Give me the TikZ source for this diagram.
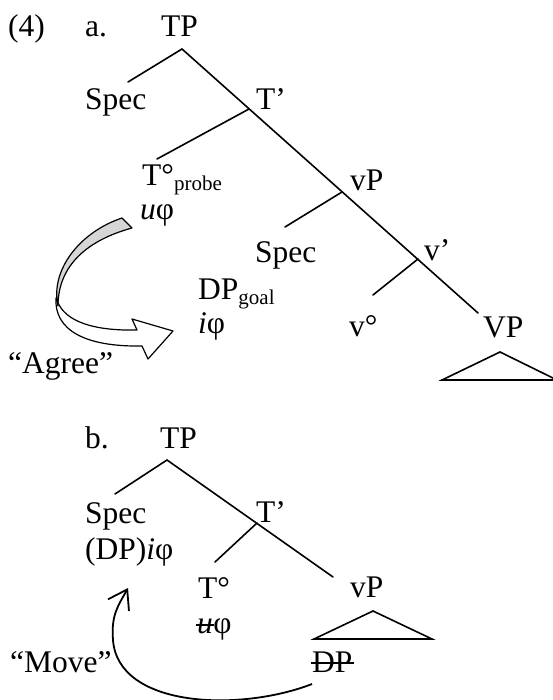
\documentclass[tikz,border=0pt]{standalone}
\usepackage{fontspec}
\setmainfont{Liberation Serif}
\usetikzlibrary{arrows.meta}
\definecolor{bandgray}{gray}{0.84}
\newcommand{\subtxt}[1]{\raisebox{-5pt}{\fontsize{21}{23}\selectfont #1}}
\begin{document}
\begin{tikzpicture}[x=1pt,y=-1pt,
  lbl/.style={inner sep=0pt, anchor=base west, font=\fontsize{31.5}{35}\selectfont},
  br/.style={line width=1.6pt, line cap=round},
  band/.style={line width=1.2pt, line join=round},
  strike/.style={line width=1.5pt}]
\useasboundingbox (0,0) rectangle (553,700);
% ---------------- part a ----------------
\node[lbl] (num) at (8,37) {(4)};
\node[lbl] (alab) at (85,37) {a.};
\node[lbl] (tpa) at (161,37) {TP};
\node[lbl] (speca) at (85,110) {Spec};
\node[lbl] (tbara) at (256,110) {T’};
\node[lbl] (tprobe) at (142,186) {T°\subtxt{probe}};
\node[lbl] (uphia) at (140,220) {\textit{u}φ};
\node[lbl] (vpa) at (350,191) {vP};
\node[lbl] (specv) at (255,262) {Spec};
\node[lbl] (vbar) at (424,261) {v’};
\node[lbl] (dpgoal) at (198,299) {DP\subtxt{goal}};
\node[lbl] (iphia) at (198,333) {\textit{i}φ};
\node[lbl] (vdeg) at (349,336) {v°};
\node[lbl] (vpbig) at (483,337) {VP};
\node[lbl] (agree) at (8,373) {“Agree”};
\coordinate (a0) at (182,49);
\coordinate (a1) at (128,82);
\coordinate (a2) at (249,109);
\coordinate (a3) at (157,159);
\coordinate (a4) at (342,192);
\coordinate (a5) at (285,227);
\coordinate (a6) at (418,259);
\coordinate (a7) at (373,295);
\coordinate (a8) at (478,313);
\draw[br] (a0) -- (a1);
\draw[br] (a0) -- (a8);
\draw[br] (a2) -- (a3);
\draw[br] (a4) -- (a5);
\draw[br] (a6) -- (a7);
\coordinate (ta) at (500,352);
\coordinate (tl) at (442,380);
\coordinate (tr) at (557,380);
\draw[br, line join=miter, line cap=butt] (tl) -- (ta) -- (tr) -- cycle;
% Agree arrow (ribbon)
\draw[band, fill=white] (57,300) .. controls (64,322) and (95,331) .. (137,330)
  -- (132,319) -- (173,331) -- (148,359) -- (142,346)
  .. controls (85,347) and (54,330) .. (56,298) -- cycle;
\draw[band, fill=bandgray] (122,218) -- (132,228)
  .. controls (88,240) and (58,265) .. (58,306)
  .. controls (50,270) and (80,232) .. (122,218) -- cycle;
% ---------------- part b ----------------
\node[lbl] (blab) at (85,448) {b.};
\node[lbl] (tpb) at (160,448) {TP};
\node[lbl] (specb) at (85,523) {Spec};
\node[lbl] (dpiphi) at (85,559) {(DP)\textit{i}φ};
\node[lbl] (tbarb) at (256,522) {T’};
\node[lbl] (tdeg) at (198,598) {T°};
\node[lbl] (ub) at (197,633) {\textit{u}};
\node[lbl] (phib) at (ub.base east) {φ};
\node[lbl] (vpb) at (350,597) {vP};
\node[lbl] (dpx) at (312,672) {DP};
\node[lbl] (move) at (10,672) {“Move”};
\coordinate (b0) at (167,460);
\coordinate (b1) at (115,494);
\coordinate (b2) at (257,523);
\coordinate (b3) at (215,562);
\coordinate (b4) at (333,577);
\draw[br] (b0) -- (b1);
\draw[br] (b0) -- (b4);
\draw[br] (b2) -- (b3);
\coordinate (tba) at (373,611);
\coordinate (tbl) at (314,639);
\coordinate (tbr) at (432,639);
\draw[br, line join=miter, line cap=butt] (tbl) -- (tba) -- (tbr) -- cycle;
\draw[strike] ([xshift=-1pt,yshift=8pt]ub.base west) -- ([xshift=1pt,yshift=8pt]ub.base east);
\draw[strike] ([xshift=-1pt,yshift=9pt]dpx.base west) -- ([xshift=1pt,yshift=9pt]dpx.base east);
% Move arrow
\coordinate (mvstart) at (312,684);
\coordinate (mvend) at (128,588);
\draw[line width=1.8pt, -{Straight Barb[length=18pt,width=24pt]}] (mvstart)
  .. controls (240,712) and (118,708) .. (113,640)
  .. controls (111,615) and (118,606) .. (mvend);
\end{tikzpicture}
\end{document}
